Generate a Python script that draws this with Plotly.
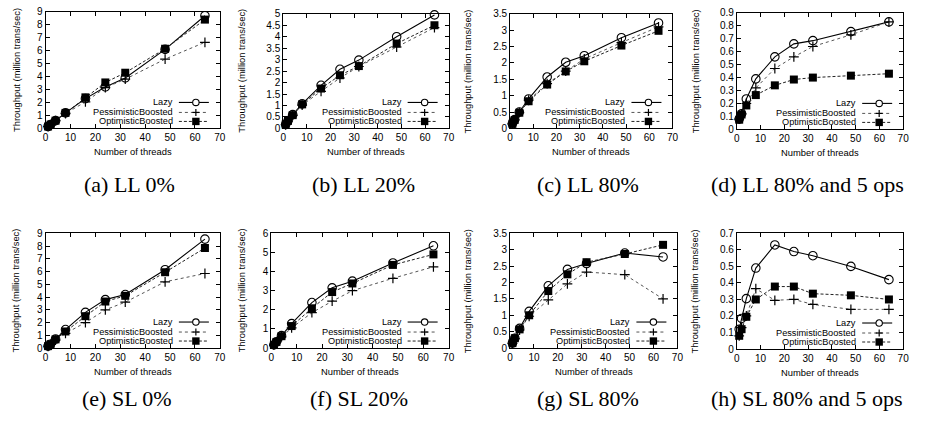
import plotly.graph_objects as go

W, H = 928, 424

threads = [1, 2, 4, 8, 16, 24, 32, 48, 64]
series_names = ["Lazy", "PessimisticBoosted", "OptimisticBoosted"]
captions = ["(a) LL 0%", "(b) LL 20%", "(c) LL 80%", "(d) LL 80% and 5 ops",
            "(e) SL 0%", "(f) SL 20%", "(g) SL 80%", "(h) SL 80% and 5 ops"]
x_title = "Number of threads"
y_title = "Throughput (million trans/sec)"

# (a) LL 0%
ll0_lazy = [0.15, 0.3, 0.6, 1.2, 2.3, 3.2, 3.9, 6.1, 8.7]
ll0_pess = [0.15, 0.3, 0.6, 1.15, 2.05, 3.15, 3.8, 5.35, 6.65]
ll0_opt = [0.15, 0.3, 0.6, 1.2, 2.4, 3.55, 4.3, 6.15, 8.4]
# (b) LL 20%
ll20_lazy = [0.17, 0.33, 0.6, 1.07, 1.88, 2.58, 2.98, 4.0, 4.95]
ll20_pess = [0.16, 0.32, 0.57, 1.02, 1.62, 2.2, 2.7, 3.55, 4.4]
ll20_opt = [0.17, 0.33, 0.58, 1.05, 1.74, 2.32, 2.72, 3.7, 4.5]
# (c) LL 80%
ll80_lazy = [0.14, 0.27, 0.5, 0.9, 1.57, 2.02, 2.22, 2.77, 3.22]
ll80_pess = [0.14, 0.26, 0.48, 0.86, 1.37, 1.75, 2.12, 2.62, 3.1]
ll80_opt = [0.14, 0.26, 0.48, 0.83, 1.34, 1.74, 2.05, 2.53, 2.98]
# (d) LL 80% and 5 ops
ll5_lazy = [0.08, 0.12, 0.235, 0.39, 0.56, 0.66, 0.685, 0.755, 0.83]
ll5_pess = [0.08, 0.12, 0.2, 0.32, 0.47, 0.56, 0.64, 0.73, 0.83]
ll5_opt = [0.075, 0.115, 0.185, 0.265, 0.34, 0.385, 0.4, 0.415, 0.43]
# (e) SL 0%
sl0_lazy = [0.15, 0.3, 0.7, 1.45, 2.8, 3.8, 4.2, 6.15, 8.55]
sl0_pess = [0.14, 0.28, 0.62, 1.15, 2.0, 3.0, 3.6, 5.2, 5.85]
sl0_opt = [0.15, 0.3, 0.68, 1.3, 2.5, 3.65, 4.1, 5.95, 7.85]
# (f) SL 20%
sl20_lazy = [0.17, 0.33, 0.65, 1.28, 2.38, 3.15, 3.5, 4.45, 5.35]
sl20_pess = [0.15, 0.3, 0.58, 1.05, 1.85, 2.45, 3.0, 3.65, 4.25]
sl20_opt = [0.16, 0.32, 0.62, 1.15, 2.08, 2.93, 3.38, 4.35, 4.9]
# (g) SL 80%
sl80_lazy = [0.15, 0.3, 0.6, 1.12, 1.9, 2.4, 2.58, 2.9, 2.78]
sl80_pess = [0.14, 0.29, 0.55, 0.97, 1.47, 1.96, 2.32, 2.24, 1.5]
sl80_opt = [0.15, 0.3, 0.57, 1.0, 1.74, 2.25, 2.62, 2.87, 3.15]
# (h) SL 80% and 5 ops
sl5_lazy = [0.12, 0.185, 0.305, 0.49, 0.63, 0.59, 0.565, 0.5, 0.42]
sl5_pess = [0.08, 0.13, 0.2, 0.365, 0.295, 0.3, 0.27, 0.24, 0.24]
sl5_opt = [0.08, 0.12, 0.195, 0.3, 0.378, 0.378, 0.335, 0.325, 0.3]

panel_data = [
    (ll0_lazy, ll0_pess, ll0_opt), (ll20_lazy, ll20_pess, ll20_opt),
    (ll80_lazy, ll80_pess, ll80_opt), (ll5_lazy, ll5_pess, ll5_opt),
    (sl0_lazy, sl0_pess, sl0_opt), (sl20_lazy, sl20_pess, sl20_opt),
    (sl80_lazy, sl80_pess, sl80_opt), (sl5_lazy, sl5_pess, sl5_opt),
]
y_max = [9, 5, 3.5, 0.9, 9, 6, 3.5, 0.7]
y_dtick = [1, 0.5, 0.5, 0.1, 1, 1, 0.5, 0.1]

# layout geometry in pixels: (left, right, top, bottom) of plotting area
boxes = [
    (43, 219, 6, 126), (283, 450, 8, 126), (512, 676, 8, 126), (741, 909, 7, 127),
    (43, 219, 234, 352), (271, 450, 234, 352), (512, 681, 234, 352), (741, 909, 234, 353),
]
ytitle_x = [13, 240, 469, 699, 13, 241, 469, 698]
caption_x = [128, 364, 591, 812, 125, 359, 591, 812]
caption_y = [184, 184, 184, 184, 404, 404, 404, 404]

styles = [
    dict(line=dict(color="black", width=1.1),
         marker=dict(symbol="circle-open", size=8.5, color="black", line=dict(width=1.1))),
    dict(line=dict(color="#555555", width=1, dash="dot"),
         marker=dict(symbol="cross-thin-open", size=7, color="black", line=dict(width=1.2))),
    dict(line=dict(color="#222222", width=1, dash="3px,2px"),
         marker=dict(symbol="square", size=8, color="black")),
]

fig = go.Figure()
sans = "Liberation Sans, Arial, sans-serif"
tick_font = dict(family=sans, size=10, color="black")
title_font = dict(family=sans, size=9.4, color="black")
legend_font = dict(family=sans, size=9.2, color="black")

for i in range(8):
    n = "" if i == 0 else str(i + 1)
    l, r, t, b = boxes[i]
    for s in range(3):
        fig.add_trace(go.Scatter(
            x=threads, y=panel_data[i][s], name=series_names[s],
            xaxis="x" + n, yaxis="y" + n, mode="lines+markers",
            showlegend=False, cliponaxis=False, **styles[s]))
    common = dict(showline=True, linecolor="black", linewidth=1, mirror="ticks",
                  ticks="inside", ticklen=4, tickcolor="black", tickwidth=1,
                  showgrid=False, zeroline=False, tickfont=tick_font)
    fig.layout["xaxis" + n] = dict(domain=[l / W, r / W], anchor="y" + n,
                                   range=[0, 70], dtick=10, tick0=0, **common)
    fig.layout["yaxis" + n] = dict(domain=[1 - b / H, 1 - t / H], anchor="x" + n,
                                   range=[0, y_max[i]], dtick=y_dtick[i], tick0=0, **common)
    # axis titles
    fig.add_annotation(x=(l + r) / 2 / W, y=1 - (b + 24) / H, xref="paper", yref="paper",
                       text=x_title, showarrow=False, font=title_font,
                       xanchor="center", yanchor="middle")
    fig.add_annotation(x=ytitle_x[i] / W, y=1 - (t + b) / 2 / H, xref="paper", yref="paper",
                       text=y_title, textangle=-90, showarrow=False, font=title_font,
                       xanchor="center", yanchor="middle")
    # caption
    fig.add_annotation(x=caption_x[i] / W, y=1 - caption_y[i] / H, xref="paper", yref="paper",
                       text=captions[i], showarrow=False,
                       font=dict(family="Liberation Serif, Times New Roman, serif", size=22, color="black"),
                       xanchor="center", yanchor="middle")
    # legend key (gnuplot-style, bottom right)
    xr, yr = "x" + n + " domain", "y" + n + " domain"
    rows = [26, 16, 7]
    for s in range(3):
        yo = rows[s]
        fig.add_annotation(x=1, y=0, xref=xr, yref=yr, xshift=-45, yshift=yo,
                           text=series_names[s], showarrow=False, font=legend_font,
                           xanchor="right", yanchor="middle")
        ln = styles[s]["line"]
        fig.add_shape(type="line", xref=xr, yref=yr, xsizemode="pixel", ysizemode="pixel",
                      xanchor=1, yanchor=0, x0=-41, x1=-11, y0=yo, y1=yo,
                      line=dict(color=ln["color"], width=ln["width"], dash=ln.get("dash", "solid")))
        cx = -24
        if s == 0:
            fig.add_shape(type="circle", xref=xr, yref=yr, xsizemode="pixel", ysizemode="pixel",
                          xanchor=1, yanchor=0, x0=cx - 3.2, x1=cx + 3.2, y0=yo - 3.2, y1=yo + 3.2,
                          line=dict(color="black", width=1.1), fillcolor="white")
        elif s == 1:
            fig.add_shape(type="line", xref=xr, yref=yr, xsizemode="pixel", ysizemode="pixel",
                          xanchor=1, yanchor=0, x0=cx - 3.5, x1=cx + 3.5, y0=yo, y1=yo,
                          line=dict(color="black", width=1.2))
            fig.add_shape(type="line", xref=xr, yref=yr, xsizemode="pixel", ysizemode="pixel",
                          xanchor=1, yanchor=0, x0=cx, x1=cx, y0=yo - 3.5, y1=yo + 3.5,
                          line=dict(color="black", width=1.2))
        else:
            fig.add_shape(type="rect", xref=xr, yref=yr, xsizemode="pixel", ysizemode="pixel",
                          xanchor=1, yanchor=0, x0=cx - 3.7, x1=cx + 3.7, y0=yo - 3.7, y1=yo + 3.7,
                          line=dict(color="black", width=0), fillcolor="black")

fig.update_layout(width=W, height=H, margin=dict(l=0, r=0, t=0, b=0),
                  paper_bgcolor="white", plot_bgcolor="white", showlegend=False)
fig.write_html("out.html", config={"displayModeBar": False},
               post_script="document.body.style.margin='0';document.body.style.overflow='hidden';")
